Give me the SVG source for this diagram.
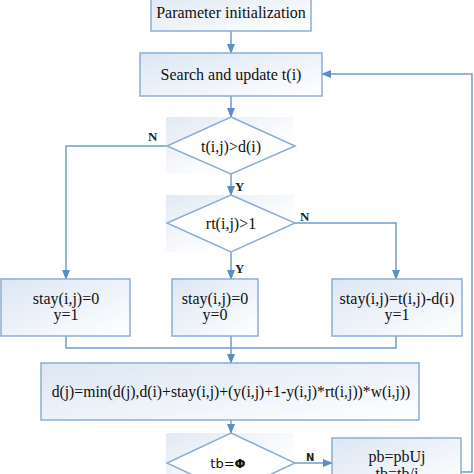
<svg xmlns="http://www.w3.org/2000/svg" width="474" height="474" viewBox="0 0 474 474">
<defs>
<linearGradient id="bg" x1="0" y1="0" x2="1" y2="1">
<stop offset="0" stop-color="#dce6f3"/>
<stop offset="1" stop-color="#ffffff"/>
</linearGradient>
<linearGradient id="dg" x1="0" y1="0" x2="1" y2="1">
<stop offset="0" stop-color="#e2e9f4"/>
<stop offset="0.7" stop-color="#ffffff"/>
</linearGradient>
<marker id="ah" markerWidth="10" markerHeight="10" refX="9" refY="5" orient="auto" markerUnits="userSpaceOnUse">
<path d="M0,1 L10,5 L0,9 Z" fill="#5b8ec8"/>
</marker>
<style>
.box{fill:url(#bg);stroke:#8aaed4;stroke-width:1.5}
.dia{fill:#ffffff;stroke:#8aaed4;stroke-width:1.5}
.dsh{fill:url(#dg)}
.t{font-family:"Liberation Serif","Times New Roman",serif;font-size:16px;fill:#111;text-anchor:middle}
.lb{font-family:"Liberation Serif","Times New Roman",serif;font-size:13px;font-weight:bold;fill:#222}
.c{fill:none;stroke:#6f9dd0;stroke-width:1.5}
.ca{fill:none;stroke:#6f9dd0;stroke-width:1.5;marker-end:url(#ah)}
</style>
</defs>
<g id="connectors">
<line class="ca" x1="231" y1="31" x2="231" y2="53"/>
<line class="ca" x1="231" y1="96" x2="231" y2="117"/>
<polyline class="ca" points="167,146 66,146 66,279"/>
<line class="ca" x1="231" y1="174" x2="231" y2="195"/>
<polyline class="ca" points="295,223 396,223 396,279"/>
<line class="ca" x1="231" y1="252" x2="231" y2="279"/>
<polyline class="c" points="66,336 66,348 396,348 396,336"/>
<line class="ca" x1="231" y1="336" x2="231" y2="363"/>
<line class="ca" x1="231" y1="420" x2="231" y2="433"/>
<line class="ca" x1="295" y1="463" x2="332" y2="463"/>
<polyline class="ca" points="461,472 472,472 472,74 322,74"/>
<text class="lb" x="148" y="141">N</text>
<text class="lb" x="235" y="191">Y</text>
<text class="lb" x="300" y="221">N</text>
<text class="lb" x="235" y="273">Y</text>
<text x="306" y="461" style="font-family:'DejaVu Sans',sans-serif;font-size:10px;font-weight:bold;fill:#222">N</text>
</g>
<g id="n1">
<rect class="box" x="151" y="-12" width="160" height="43"/>
<text class="t" x="231" y="18">Parameter initialization</text>
</g>
<g id="n2">
<rect class="box" x="140" y="53" width="182" height="43"/>
<text class="t" x="231" y="80">Search and update t(i)</text>
</g>
<g id="d1">
<rect class="dsh" x="166" y="117" width="128" height="57"/>
<polygon class="dia" points="231,117 295,146 231,174 167,146"/>
<text class="t" x="231" y="152">t(i,j)&gt;d(i)</text>
</g>
<g id="d2">
<rect class="dsh" x="166" y="195" width="128" height="57"/>
<polygon class="dia" points="231,195 295,223 231,252 167,223"/>
<text class="t" x="231" y="229">rt(i,j)&gt;1</text>
</g>
<g id="b1">
<rect class="box" x="1" y="279" width="129" height="57"/>
<text class="t" x="66" y="304">stay(i,j)=0</text>
<text class="t" x="66" y="320">y=1</text>
</g>
<g id="b2">
<rect class="box" x="172" y="279" width="86" height="57"/>
<text class="t" x="215" y="304">stay(i,j)=0</text>
<text class="t" x="215" y="320">y=0</text>
</g>
<g id="b3">
<rect class="box" x="332" y="279" width="130" height="57"/>
<text class="t" x="397" y="304">stay(i,j)=t(i,j)-d(i)</text>
<text class="t" x="397" y="320">y=1</text>
</g>
<g id="n3">
<rect class="box" x="41" y="363" width="378" height="57"/>
<text class="t" x="231" y="397" style="font-size:15.7px">d(j)=min(d(j),d(i)+stay(i,j)+(y(i,j)+1-y(i,j)*rt(i,j))*w(i,j))</text>
</g>
<g id="d3">
<rect class="dsh" x="166" y="433" width="128" height="60"/>
<polygon class="dia" points="231,433 295,463 231,493 167,463"/>
<text x="228" y="468" style="font-family:'DejaVu Sans',sans-serif;font-size:13px;fill:#111;text-anchor:middle">tb=<tspan font-weight="bold">Φ</tspan></text>
</g>
<g id="n4">
<rect class="box" x="332" y="438" width="129" height="50"/>
<text class="t" x="397" y="462">pb=pbUj</text>
<text class="t" x="397" y="479">tb=tb/j</text>
</g>
</svg>
